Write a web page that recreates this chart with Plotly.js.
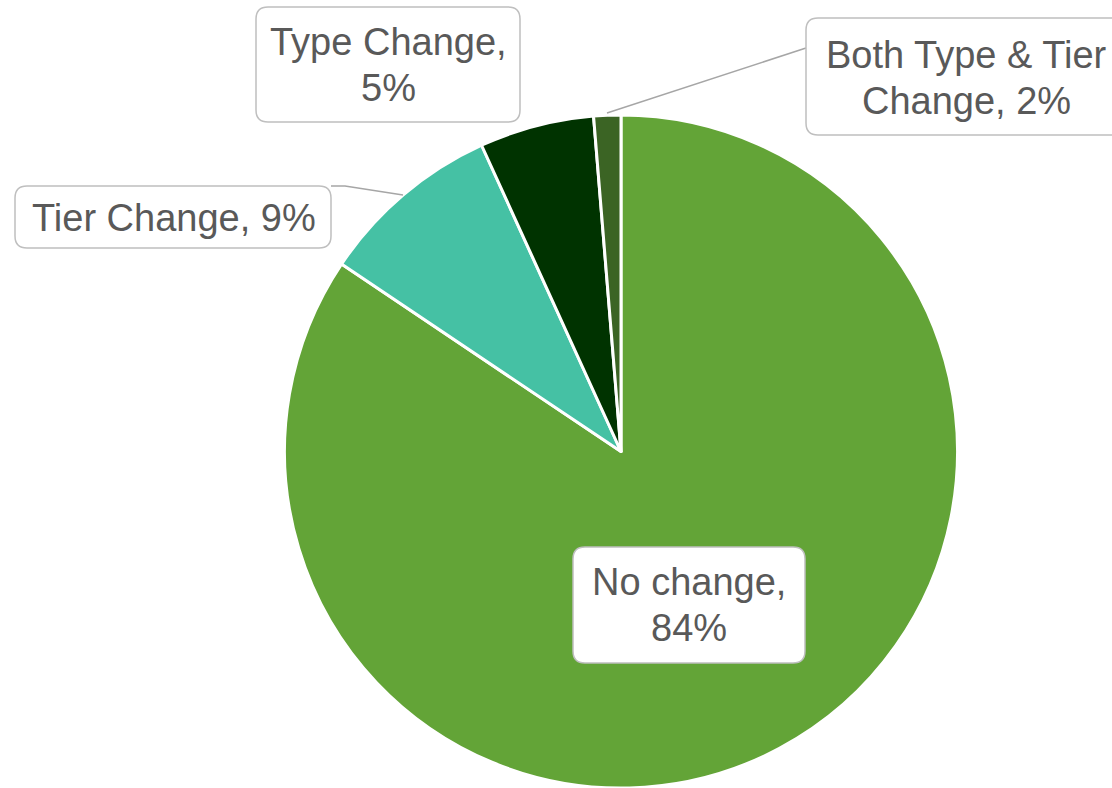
<!DOCTYPE html>
<html>
<head>
<meta charset="utf-8">
<script src="https://cdn.plot.ly/plotly-3.0.1.min.js"></script>
<style>html,body{margin:0;padding:0;background:#fff;}#chart{width:1112px;height:788px;}</style>
</head>
<body>
<div id="chart"></div>
<script>
const categories = ["No change", "Tier Change", "Type Change", "Both Type & Tier Change"];
const values = [84.4, 8.8, 5.5, 1.3];
const labelTexts = ["No change,<br>84%", "Tier Change, 9%", "Type Change,<br>5%", "Both Type & Tier<br>Change, 2%"];
const colors = ["#63A437", "#45C1A4", "#003300", "#3B6424"];

const W = 1112, H = 788;
const px = x => x / W;
const py = y => 1 - y / H;

// label boxes in pixels [x0, y0, x1, y1], text centre [cx, cy]
const boxes = [
  {b: [573, 547, 805, 663], c: [689, 605]},
  {b: [15, 186, 331, 248], c: [174, 218]},
  {b: [256, 7, 520, 122], c: [388, 65]},
  {b: [806, 18, 1130, 135], c: [966, 78]}
];

function roundRect(b, r) {
  const [x0, y0, x1, y1] = b;
  const P = (x, y) => px(x) + "," + py(y);
  return "M" + P(x0 + r, y0) + " L" + P(x1 - r, y0) + " Q" + P(x1, y0) + " " + P(x1, y0 + r) +
    " L" + P(x1, y1 - r) + " Q" + P(x1, y1) + " " + P(x1 - r, y1) +
    " L" + P(x0 + r, y1) + " Q" + P(x0, y1) + " " + P(x0, y1 - r) +
    " L" + P(x0, y0 + r) + " Q" + P(x0, y0) + " " + P(x0 + r, y0) + " Z";
}

const shapes = [];
shapes.push({type: "path", xref: "paper", yref: "paper", layer: "above",
  path: "M" + px(806) + "," + py(48) + " L" + px(607) + "," + py(113),
  line: {color: "#A6A6A6", width: 1.5}});
shapes.push({type: "path", xref: "paper", yref: "paper", layer: "above",
  path: "M" + px(331) + "," + py(186) + " L" + px(345) + "," + py(186) + " L" + px(403) + "," + py(195),
  line: {color: "#A6A6A6", width: 1.5}});
boxes.forEach(bx => {
  shapes.push({type: "path", xref: "paper", yref: "paper", layer: "above",
    path: roundRect(bx.b, 12), fillcolor: "#FFFFFF",
    line: {color: "#BFBFBF", width: 1.5}});
});

const LINE = 46;
const annotations = [];
boxes.forEach((bx, i) => {
  const lines = labelTexts[i].split("<br>");
  lines.forEach((t, j) => {
    const cy = bx.c[1] + (j - (lines.length - 1) / 2) * LINE;
    annotations.push({
      x: px(bx.c[0]), y: py(cy), xref: "paper", yref: "paper",
      xanchor: "center", yanchor: "middle", showarrow: false,
      text: t, align: "center",
      font: {family: "Liberation Sans, Arial, sans-serif", size: 38, color: "#595959"}
    });
  });
});

const trace = {
  type: "pie",
  labels: categories,
  values: values,
  sort: false,
  direction: "clockwise",
  rotation: 0,
  textinfo: "none",
  hoverinfo: "label+percent",
  marker: {colors: colors, line: {color: "#FFFFFF", width: 3}},
  domain: {x: [284 / W, 958 / W], y: [0, 1 - 115 / H]},
  showlegend: false
};

Plotly.newPlot("chart", [trace], {
  width: W, height: H,
  margin: {l: 0, r: 0, t: 0, b: 0},
  paper_bgcolor: "#FFFFFF",
  showlegend: false,
  shapes: shapes,
  annotations: annotations
}, {displayModeBar: false});
</script>
</body>
</html>
